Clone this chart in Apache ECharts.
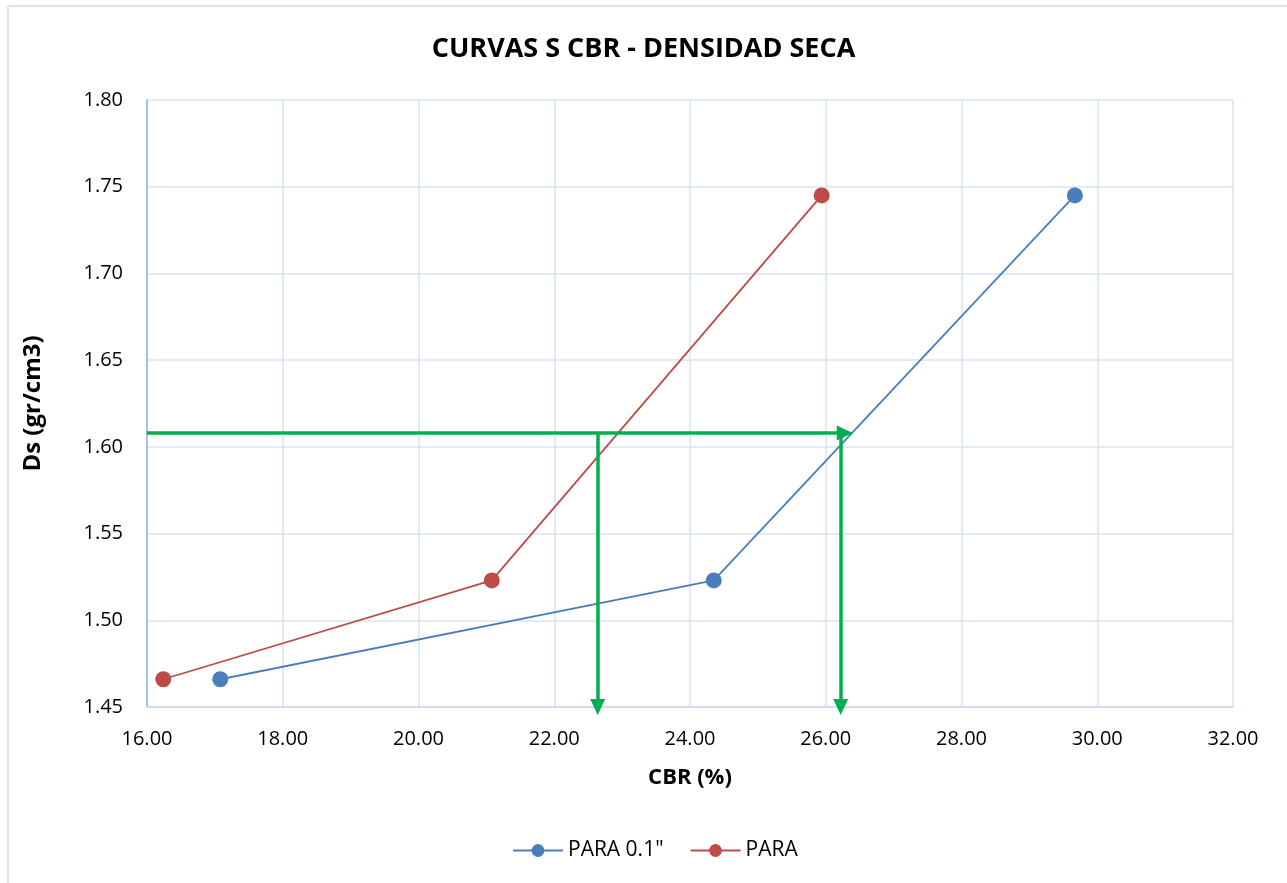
<!DOCTYPE html>
<html>
<head>
<meta charset="utf-8">
<script src="https://cdn.jsdelivr.net/npm/echarts@6/dist/echarts.min.js"></script>
<style>
  html, body { margin: 0; padding: 0; background: #fff; }
  #chart { width: 1287px; height: 883px; }
</style>
</head>
<body>
<div id="chart"></div>
<script>
// --- data ---
const seriesNames = ['PARA 0.1"', "PARA"];
const cbr01 = [17.08, 24.35, 29.67];
const cbrPara = [16.24, 21.08, 25.94];
const dryDensity = [1.466, 1.523, 1.745];

// green guide arrows: [x0, y0, x1, y1]
const guideArrows = [
  [16.0, 1.608, 26.28, 1.608],
  [22.64, 1.608, 22.64, 1.45],
  [26.22, 1.608, 26.22, 1.45],
];

const FONT = "'Open Sans', 'Liberation Sans', sans-serif";
const BLUE = "#4a7ebb";
const RED = "#be4b48";
const GREEN = "#00b050";

const pairs = (xs) => xs.map((x, i) => [x, dryDensity[i]]);

const chart = echarts.init(document.getElementById("chart"), null, { renderer: "canvas" });

chart.setOption({
  animation: false,
  backgroundColor: "#fff",
  textStyle: { fontFamily: FONT },
  title: {
    text: "CURVAS S CBR - DENSIDAD SECA",
    left: "center",
    top: 31,
    textStyle: { fontFamily: FONT, fontSize: 27, fontWeight: "bold", color: "#000" },
  },
  graphic: [
    {
      type: "rect",
      shape: { x: 8, y: 6, width: 1290, height: 890 },
      style: { fill: "none", stroke: "#d0dcef", lineWidth: 1.5 },
      silent: true,
    },
  ],
  grid: { left: 147, right: 54, top: 100, bottom: 176 },
  legend: {
    top: 835,
    left: 507,
    itemWidth: 50,
    itemHeight: 16,
    itemGap: 26,
    textStyle: { fontFamily: FONT, fontSize: 21, color: "#000" },
    data: seriesNames,
  },
  xAxis: {
    type: "value",
    min: 16,
    max: 32,
    interval: 2,
    name: "CBR (%)",
    nameLocation: "middle",
    nameGap: 60,
    nameTextStyle: { fontFamily: FONT, fontSize: 22, fontWeight: "bold", color: "#000" },
    axisLine: { lineStyle: { color: "#c9d7ea", width: 1.5 } },
    axisTick: { show: false },
    axisLabel: {
      formatter: (v) => v.toFixed(2),
      fontSize: 20,
      color: "#000",
      margin: 22,
    },
    splitLine: { lineStyle: { color: "#d9e3f2", width: 1.5 } },
  },
  yAxis: {
    type: "value",
    min: 1.45,
    max: 1.8,
    interval: 0.05,
    name: "Ds (gr/cm3)",
    nameLocation: "middle",
    nameGap: 102,
    nameTextStyle: { fontFamily: FONT, fontSize: 24, fontWeight: "bold", color: "#000" },
    axisLine: { show: true, lineStyle: { color: "#8eb4e3", width: 1.5 } },
    axisTick: { show: false },
    axisLabel: {
      formatter: (v) => v.toFixed(2),
      fontSize: 20,
      color: "#000",
      margin: 24,
    },
    splitLine: { lineStyle: { color: "#d9e3f2", width: 1.5 } },
  },
  series: [
    {
      name: seriesNames[0],
      type: "line",
      data: pairs(cbr01),
      symbol: "circle",
      symbolSize: 16,
      lineStyle: { color: BLUE, width: 1.8 },
      itemStyle: { color: BLUE },
      z: 3,
    },
    {
      name: seriesNames[1],
      type: "line",
      data: pairs(cbrPara),
      symbol: "circle",
      symbolSize: 16,
      lineStyle: { color: RED, width: 1.8 },
      itemStyle: { color: RED },
      z: 3,
    },
    {
      // guide arrows, drawn as a mark line on an empty helper series
      type: "line",
      data: [],
      silent: true,
      z: 5,
      markLine: {
        silent: true,
        symbol: ["none", "triangle"],
        symbolSize: [15, 16],
        label: { show: false },
        lineStyle: { color: GREEN, width: 3.5, type: "solid" },
        data: guideArrows.map(([x0, y0, x1, y1]) => [{ coord: [x0, y0] }, { coord: [x1, y1] }]),
      },
    },
  ],
});
</script>
</body>
</html>
